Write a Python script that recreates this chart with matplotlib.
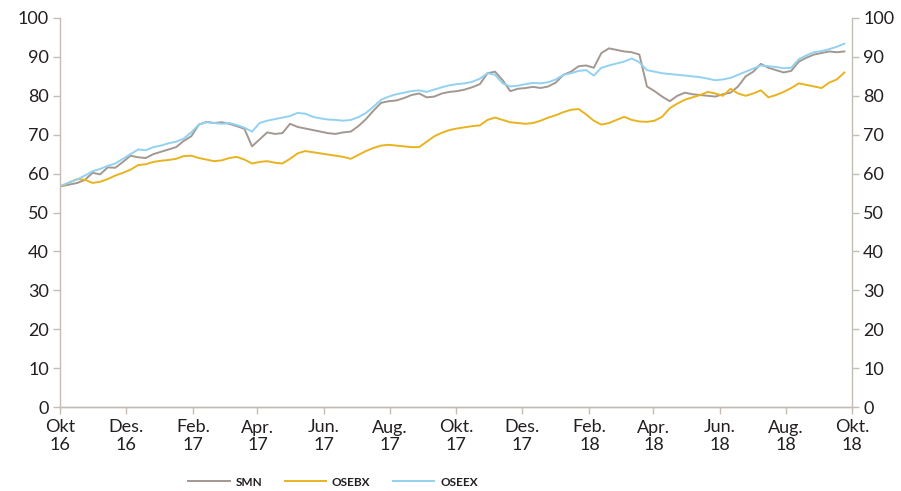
import numpy as np
import pandas as pd
import matplotlib
matplotlib.use("Agg")
import matplotlib.pyplot as plt
import matplotlib.dates as mdates

plt.rcParams['font.family'] = ['Lato', 'DejaVu Sans']

# weekly readings, Oct 2016 - Sep 2018 (index, start = 100 scaled)
dates = pd.date_range("2016-10-03", periods=104, freq="7D")

smn = [56.8, 57.2, 57.6, 58.4, 60.2, 59.8, 61.6, 61.5, 63.0, 64.6,
       64.2, 64.0, 65.0, 65.6, 66.2, 66.8, 68.4, 69.6, 72.6, 73.3,
       73.0, 73.2, 72.8, 72.2, 71.5, 67.0, 68.8, 70.6, 70.2, 70.4,
       72.8, 72.0, 71.6, 71.2, 70.8, 70.4, 70.2, 70.6, 70.8, 72.2,
       74.0, 76.2, 78.2, 78.6, 78.8, 79.4, 80.2, 80.6, 79.6, 79.8,
       80.6, 81.0, 81.2, 81.6, 82.2, 83.0, 85.8, 86.2, 84.0, 81.2,
       81.8, 82.0, 82.3, 82.0, 82.4, 83.4, 85.4, 86.2, 87.6, 87.8,
       87.2, 91.0, 92.2, 91.8, 91.4, 91.2, 90.6, 82.4, 81.2, 79.8,
       78.6, 80.0, 80.8, 80.4, 80.2, 80.0, 79.8, 80.4, 80.8, 82.4,
       85.0, 86.2, 88.2, 87.2, 86.6, 86.0, 86.4, 88.8, 89.8, 90.6,
       91.0, 91.4, 91.2, 91.4]

osebx = [56.8, 57.8, 58.6, 58.4, 57.6, 57.9, 58.6, 59.5, 60.2, 61.0,
         62.2, 62.4, 63.0, 63.3, 63.5, 63.8, 64.5, 64.6, 64.0, 63.6,
         63.2, 63.4, 64.0, 64.3, 63.6, 62.6, 63.0, 63.2, 62.8, 62.6,
         63.8, 65.2, 65.8, 65.5, 65.2, 64.9, 64.6, 64.3, 63.8, 64.8,
         65.8, 66.6, 67.2, 67.4, 67.2, 67.0, 66.8, 66.8, 68.2, 69.6,
         70.5, 71.2, 71.6, 71.9, 72.2, 72.4, 73.8, 74.4, 73.8, 73.2,
         73.0, 72.8, 73.0, 73.6, 74.4, 75.0, 75.8, 76.4, 76.6, 75.2,
         73.6, 72.6, 73.0, 73.8, 74.6, 73.8, 73.4, 73.3, 73.6, 74.6,
         76.8, 78.0, 79.0, 79.6, 80.2, 81.0, 80.6, 80.0, 81.8, 80.6,
         80.0, 80.6, 81.4, 79.6, 80.2, 81.0, 82.0, 83.2, 82.8, 82.4,
         82.0, 83.4, 84.2, 86.0]

oseex = [57.0, 57.8, 58.5, 59.5, 60.6, 61.2, 62.0, 62.6, 63.8, 65.0,
         66.2, 66.0, 66.8, 67.2, 67.8, 68.2, 69.0, 70.6, 72.6, 73.2,
         73.0, 72.8, 73.0, 72.5, 71.8, 70.8, 73.0, 73.6, 74.0, 74.4,
         74.8, 75.6, 75.4, 74.6, 74.2, 73.9, 73.8, 73.6, 73.8, 74.5,
         75.6, 77.2, 79.0, 79.8, 80.4, 80.8, 81.2, 81.4, 81.0, 81.6,
         82.2, 82.7, 83.0, 83.2, 83.6, 84.4, 85.8, 85.4, 83.2, 82.4,
         82.6, 83.0, 83.3, 83.2, 83.5, 84.2, 85.4, 85.8, 86.4, 86.6,
         85.2, 87.2, 87.8, 88.3, 88.8, 89.6, 88.6, 86.6, 86.2, 85.8,
         85.6, 85.4, 85.2, 85.0, 84.8, 84.4, 84.0, 84.2, 84.6, 85.4,
         86.2, 87.0, 87.8, 87.6, 87.4, 87.1, 87.2, 89.4, 90.4, 91.2,
         91.5, 92.0, 92.6, 93.4]

tick_dates = pd.date_range("2016-10-01", "2018-10-01", freq="2MS")
tick_labels = ["Okt\n16", "Des.\n16", "Feb.\n17", "Apr.\n17", "Jun.\n17", "Aug.\n17",
               "Okt.\n17", "Des.\n17", "Feb.\n18", "Apr.\n18", "Jun.\n18", "Aug.\n18",
               "Okt.\n18"]

spine_col = "#c4bdb6"
text_col = "#231f20"

fig = plt.figure(figsize=(9.01, 4.91), dpi=100)
ax = fig.add_axes([60/901, 1 - 407/491, 792/901, 389/491])

ax.plot(dates, smn, color="#a39891", lw=1.4, label="SMN")
ax.plot(dates, osebx, color="#e9b320", lw=1.4, label="OSEBX")
ax.plot(dates, oseex, color="#93d1f1", lw=1.4, label="OSEEX")

ax.set_ylim(0, 100)
ax.set_yticks(range(0, 101, 10))
ax.set_xlim(pd.Timestamp("2016-10-01"), pd.Timestamp("2018-10-01"))
ax.set_xticks(tick_dates)
ax.set_xticklabels(tick_labels, linespacing=1.15)

ax2 = ax.twinx()
ax2.set_ylim(0, 100)
ax2.set_yticks(range(0, 101, 10))

for a in (ax, ax2):
    for s in a.spines.values():
        s.set_color(spine_col)
        s.set_linewidth(1.0)
    a.spines["top"].set_visible(False)
    a.tick_params(colors=spine_col, labelcolor=text_col, labelsize=13,
                  length=5, width=1.0)
ax.tick_params(axis="x", pad=4)
ax.tick_params(axis="y", pad=3)
ax2.tick_params(axis="y", pad=3)
ax2.spines["left"].set_visible(False)
ax.spines["right"].set_visible(False)

leg = fig.legend(loc="center", bbox_to_anchor=(333/901, 1 - 482/491), ncol=3,
                 frameon=False, handlelength=3.5, columnspacing=1.9,
                 handletextpad=0.5, prop={'weight': 'bold', 'size': 8.5})
for t in leg.get_texts():
    t.set_color(text_col)

fig.savefig("out.png", dpi=100)
